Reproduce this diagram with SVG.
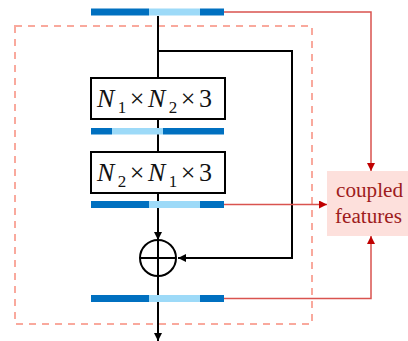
<svg xmlns="http://www.w3.org/2000/svg" width="408" height="341" viewBox="0 0 408 341">
<style>
.dk{fill:#0070c0}
.lt{fill:#9ddaf8}
.blk{stroke:#000;stroke-width:2;fill:none}
.box{stroke:#000;stroke-width:2;fill:#fff}
.red{stroke:#d9534f;stroke-width:1.5;fill:none}
.math{font-family:"Liberation Serif",serif;font-size:26px;fill:#111}
.cf{font-family:"Liberation Serif",serif;font-size:20px;fill:#9e1c1c}
</style>
<defs>
<marker id="ab" markerWidth="8" markerHeight="8" refX="8" refY="4" orient="auto" markerUnits="userSpaceOnUse">
<path d="M0,0 L8,4 L0,8 Z" fill="#000"/>
</marker>
<marker id="ar" markerWidth="8" markerHeight="8" refX="8" refY="4" orient="auto" markerUnits="userSpaceOnUse">
<path d="M0,0 L8,4 L0,8 Z" fill="#c00000"/>
</marker>
</defs>
<rect id="dashed-frame" x="15" y="26" width="297" height="298" fill="none" stroke="#f9a99d" stroke-width="2" stroke-dasharray="7,6"/>
<g id="connectors">
<path class="blk" d="M158,16 V78"/>
<path class="blk" d="M158,51 H292 V258 H178" marker-end="url(#ab)"/>
<path class="blk" d="M158,119 V152"/>
<path class="blk" d="M158,193 V240" marker-end="url(#ab)"/>
<path class="blk" d="M158,277 V341" marker-end="url(#ab)"/>
<path class="red" d="M224,12 H371 V171" marker-end="url(#ar)"/>
<path class="red" d="M224,204.5 H327" marker-end="url(#ar)"/>
<path class="red" d="M224,298.5 H371 V236" marker-end="url(#ar)"/>
</g>
<g id="bar1"><rect class="dk" x="91" y="8.5" width="58" height="7"/><rect class="lt" x="149" y="8.5" width="51" height="7"/><rect class="dk" x="200" y="8.5" width="24" height="7"/></g>
<g id="box1"><rect class="box" x="91" y="78" width="134" height="41"/>
<text class="math" x="97" y="107" textLength="115" lengthAdjust="spacing"><tspan font-style="italic">N</tspan><tspan font-size="17" dy="6">1</tspan><tspan dy="-6">×</tspan><tspan font-style="italic">N</tspan><tspan font-size="17" dy="6">2</tspan><tspan dy="-6">×3</tspan></text></g>
<g id="bar2"><rect class="dk" x="91" y="128" width="21" height="6.5"/><rect class="lt" x="112" y="128" width="51" height="6.5"/><rect class="dk" x="163" y="128" width="61" height="6.5"/></g>
<g id="box2"><rect class="box" x="91" y="152" width="134" height="41"/>
<text class="math" x="97" y="181" textLength="115" lengthAdjust="spacing"><tspan font-style="italic">N</tspan><tspan font-size="17" dy="6">2</tspan><tspan dy="-6">×</tspan><tspan font-style="italic">N</tspan><tspan font-size="17" dy="6">1</tspan><tspan dy="-6">×3</tspan></text></g>
<g id="bar3"><rect class="dk" x="91" y="201" width="58" height="7"/><rect class="lt" x="149" y="201" width="51" height="7"/><rect class="dk" x="200" y="201" width="24" height="7"/></g>
<g id="sum"><circle cx="158" cy="258" r="18" fill="#fff" stroke="#000" stroke-width="2"/><path class="blk" d="M140,258 H176 M158,240 V276"/></g>
<g id="bar4"><rect class="dk" x="91" y="295" width="58" height="7"/><rect class="lt" x="149" y="295" width="51" height="7"/><rect class="dk" x="200" y="295" width="24" height="7"/></g>
<g id="coupled-features"><rect x="327" y="171" width="81" height="65" fill="#fde0dc"/>
<text class="cf" x="336" y="197" textLength="67" lengthAdjust="spacingAndGlyphs">coupled</text>
<text class="cf" x="335" y="223" textLength="67" lengthAdjust="spacingAndGlyphs">features</text></g>
</svg>
